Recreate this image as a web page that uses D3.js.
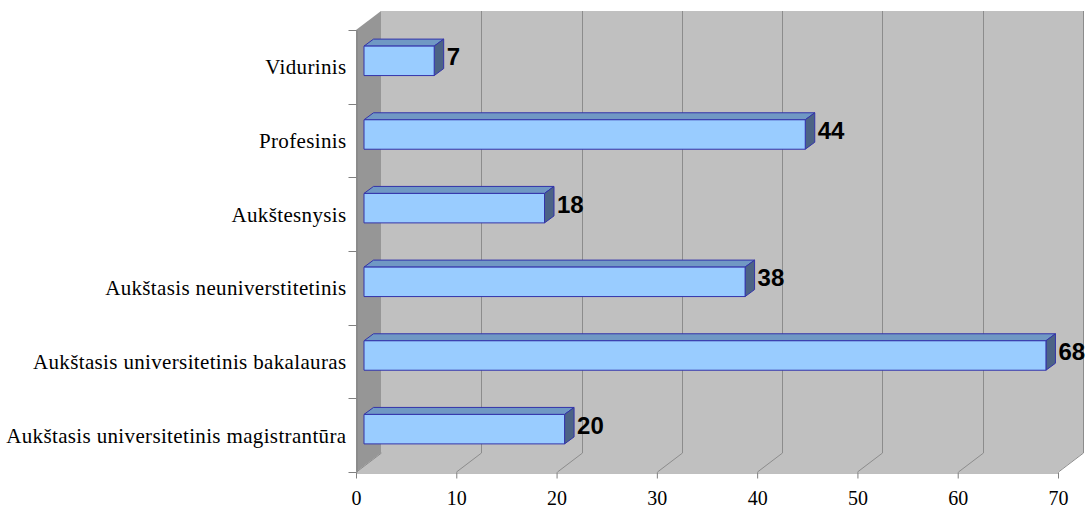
<!DOCTYPE html>
<html>
<head>
<meta charset="utf-8">
<script src="https://cdn.jsdelivr.net/npm/d3@7"></script>
<style>
  html, body { margin: 0; padding: 0; background: #ffffff; }
  svg { display: block; }
</style>
</head>
<body>
<svg id="chart" width="1090" height="510"></svg>
<script>
// Education level categories (top to bottom) and their counts
const categories = [
  "Vidurinis",
  "Profesinis",
  "Aukštesnysis",
  "Aukštasis neuniverstitetinis",
  "Aukštasis universitetinis bakalauras",
  "Aukštasis universitetinis magistrantūra"
];
const values = [7, 44, 18, 38, 68, 20];
const xTicks = [0, 10, 20, 30, 40, 50, 60, 70];

const svg = d3.select("#chart");

// Front plane of the 3-D box
const plotLeft = 356, plotRight = 1058, plotTop = 30, plotBottom = 472;
// Depth of the box (back wall offset)
const depth = { dx: 25, dy: -19 };
// Position of the bar front inside the box, and bar thickness in depth
const barShift = { dx: 8, dy: -6 };
const barDepth = { dx: 9.5, dy: -7 };

const x = d3.scaleLinear().domain([0, 70]).range([plotLeft, plotRight]);
const y = d3.scaleBand().domain(categories).range([plotTop, plotBottom]).paddingInner(0).paddingOuter(0);
const barH = y.bandwidth() * 0.4;

const wallFill = "#c0c0c0";
const sideFill = "#969696";
const gridColor = "#8c8c8c";
const axisColor = "#808080";
const serif = "'Liberation Serif', 'Times New Roman', serif";

// Back wall
svg.append("rect")
  .attr("x", plotLeft + depth.dx).attr("y", plotTop + depth.dy)
  .attr("width", plotRight - plotLeft).attr("height", plotBottom - plotTop)
  .attr("fill", wallFill);

// Floor
svg.append("path")
  .attr("d", `M${plotLeft},${plotBottom} L${plotRight},${plotBottom} L${plotRight + depth.dx},${plotBottom + depth.dy} L${plotLeft + depth.dx},${plotBottom + depth.dy} Z`)
  .attr("fill", wallFill);

// Left side wall
svg.append("path")
  .attr("d", `M${plotLeft},${plotTop} L${plotLeft + depth.dx},${plotTop + depth.dy} L${plotLeft + depth.dx},${plotBottom + depth.dy} L${plotLeft},${plotBottom} Z`)
  .attr("fill", sideFill);

// Gridlines on back wall and floor
const grid = svg.append("g").attr("stroke", gridColor).attr("stroke-width", 1).attr("fill", "none");
xTicks.filter(t => t > 0).forEach(t => {
  const xf = Math.round(x(t)) + 0.5;
  grid.append("path")
    .attr("d", `M${xf},${plotBottom} L${xf + depth.dx},${plotBottom + depth.dy} L${xf + depth.dx},${plotTop + depth.dy}`);
});
// Edge between floor and side wall
grid.append("path")
  .attr("d", `M${plotLeft + 0.5},${plotBottom} L${plotLeft + depth.dx + 0.5},${plotBottom + depth.dy}`);

// Bars
const bars = svg.append("g");
categories.forEach((c, i) => {
  const v = values[i];
  const cy = y(c) + y.bandwidth() / 2 + barShift.dy;
  const y0 = cy - barH / 2, y1 = cy + barH / 2;
  const x0 = x(0) + barShift.dx, x1 = x(v) + barShift.dx;
  const g = bars.append("g").attr("stroke", "#3333aa").attr("stroke-width", 1).attr("stroke-linejoin", "round");
  // top face
  g.append("path")
    .attr("d", `M${x0},${y0} L${x0 + barDepth.dx},${y0 + barDepth.dy} L${x1 + barDepth.dx},${y0 + barDepth.dy} L${x1},${y0} Z`)
    .attr("fill", "#7098c4");
  // end face
  g.append("path")
    .attr("d", `M${x1},${y0} L${x1 + barDepth.dx},${y0 + barDepth.dy} L${x1 + barDepth.dx},${y1 + barDepth.dy} L${x1},${y1} Z`)
    .attr("fill", "#4c6385");
  // front face
  g.append("rect")
    .attr("x", x0).attr("y", y0).attr("width", x1 - x0).attr("height", barH)
    .attr("fill", "#99ccff");
  // value label
  svg.append("text")
    .attr("x", x1 + barDepth.dx + 3)
    .attr("y", cy - 4)
    .attr("dy", "0.35em")
    .attr("font-family", "'Liberation Sans', Arial, sans-serif")
    .attr("font-weight", "bold")
    .attr("font-size", 24)
    .attr("fill", "#000")
    .text(v);
});

// Category axis
const yAxis = d3.axisLeft(y).tickSize(8).tickSizeOuter(0).tickFormat(d => d);
const yg = svg.append("g").attr("transform", `translate(${plotLeft + 0.5},0)`).call(yAxis);
yg.select(".domain").attr("stroke", axisColor);
yg.selectAll(".tick line").remove();
// boundary ticks between categories
const bounds = categories.map(c => y(c)).concat([plotBottom]);
yg.selectAll(".bound").data(bounds).enter().append("line")
  .attr("class", "bound")
  .attr("x1", -8).attr("x2", 0)
  .attr("y1", d => Math.round(d) + 0.5).attr("y2", d => Math.round(d) + 0.5)
  .attr("stroke", axisColor);
yg.selectAll(".tick text")
  .attr("x", -10)
  .attr("dy", "0.36em")
  .attr("font-family", serif)
  .attr("font-size", 21)
  .attr("letter-spacing", "0.35px")
  .attr("fill", "#000");

// Value axis
const xAxis = d3.axisBottom(x).tickValues(xTicks).tickSize(6).tickSizeOuter(0);
const xg = svg.append("g").attr("transform", `translate(0,${plotBottom + 0.5})`).call(xAxis);
xg.select(".domain").attr("stroke", axisColor);
xg.selectAll(".tick line").attr("stroke", axisColor);
xg.selectAll(".tick text")
  .attr("y", 18)
  .attr("font-family", serif)
  .attr("font-size", 20)
  .attr("fill", "#000");
</script>
</body>
</html>
